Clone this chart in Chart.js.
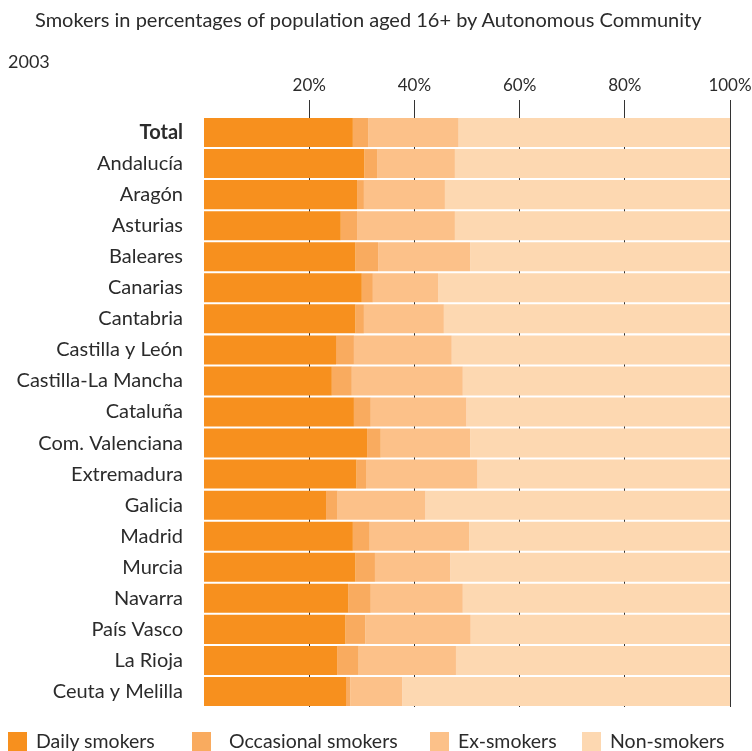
<!DOCTYPE html>
<html>
<head>
<meta charset="utf-8">
<script src="https://cdn.jsdelivr.net/npm/chart.js@4.4.0/dist/chart.umd.min.js"></script>
<style>
  html, body { margin: 0; padding: 0; background: #fff; }
  #wrap { position: relative; width: 752px; height: 751px; font-family: Lato, sans-serif; color: #2b2b2b; }
  #title { position: absolute; left: 35px; top: 7px; font-size: 20px; }
  #year { position: absolute; left: 8px; top: 50px; font-size: 18px; }
  #legend { position: absolute; left: 0; top: 729px; width: 752px; height: 22px; font-size: 19.5px; }
  .lg { position: absolute; top: 0; white-space: nowrap; }
  .lg span.box { display: inline-block; width: 19px; height: 19px; vertical-align: -3px; }
  canvas { position: absolute; left: 0; top: 0; }
</style>
</head>
<body>
<div id="wrap">
  <canvas id="chart" width="752" height="751"></canvas>
  <div id="title">Smokers in percentages of population aged 16+ by Autonomous Community</div>
  <div id="year">2003</div>
  <div id="legend"></div>
</div>
<script>
// Datos (porcentajes, 2003)
const regions = ['Total', 'Andalucía', 'Aragón', 'Asturias', 'Baleares', 'Canarias', 'Cantabria',
  'Castilla y León', 'Castilla-La Mancha', 'Cataluña', 'Com. Valenciana', 'Extremadura', 'Galicia',
  'Madrid', 'Murcia', 'Navarra', 'País Vasco', 'La Rioja', 'Ceuta y Melilla'];
const daily      = [28.3, 30.5, 29.1, 26.0, 28.8, 30.0, 28.8, 25.1, 24.3, 28.5, 31.0, 29.0, 23.2, 28.3, 28.8, 27.4, 26.9, 25.3, 27.0];
const occasional = [2.9, 2.4, 1.3, 3.1, 4.3, 2.1, 1.6, 3.4, 3.8, 3.2, 2.6, 1.8, 2.2, 3.2, 3.7, 4.3, 3.8, 4.1, 0.8];
const exSmokers  = [17.2, 14.8, 15.4, 18.6, 17.5, 12.4, 15.2, 18.6, 21.1, 18.2, 17.0, 21.2, 16.7, 18.9, 14.3, 17.5, 20.0, 18.5, 9.9];
const nonSmokers = [51.6, 52.3, 54.2, 52.3, 49.4, 55.5, 54.4, 52.9, 50.8, 50.1, 49.4, 48.0, 57.9, 49.6, 53.2, 50.8, 49.3, 52.1, 62.3];
const tickValues = [20, 40, 60, 80, 100];

const seriesNames = ['Daily smokers', 'Occasional smokers', 'Ex-smokers', 'Non-smokers'];
const seriesData = [daily, occasional, exSmokers, nonSmokers];
const colors = ['#F7901E', '#F9AB5F', '#FCC189', '#FDD8B1'];

const ctx = document.getElementById('chart').getContext('2d');
const chart = new Chart(ctx, {
  type: 'bar',
  data: {
    labels: regions,
    datasets: seriesNames.map((name, i) => ({
      label: name,
      data: seriesData[i],
      backgroundColor: colors[i],
      borderWidth: 0,
      categoryPercentage: 1,
      barPercentage: 0.935
    }))
  },
  options: {
    indexAxis: 'y',
    responsive: false,
    animation: false,
    layout: { padding: { top: 70, right: 0, left: 0, bottom: 44 } },
    plugins: {
      legend: { display: false },
      tooltip: { enabled: false }
    },
    scales: {
      x: {
        position: 'top',
        stacked: true,
        min: 0,
        max: 100,
        afterFit: (s) => { s.height = 47; s.paddingRight = 22; },
        afterBuildTicks: (s) => { s.ticks = tickValues.map(v => ({ value: v })); },
        grid: { color: '#333', lineWidth: 1, tickLength: 17, drawOnChartArea: true },
        border: { display: false },
        ticks: {
          padding: 4,
          color: '#2b2b2b',
          font: { family: 'Lato', size: 17 },
          callback: (v) => v + '%'
        }
      },
      y: {
        stacked: true,
        afterFit: (s) => { s.width = 204; },
        grid: { display: false, drawTicks: false },
        border: { display: false },
        ticks: {
          padding: 21,
          color: '#2b2b2b',
          font: (c) => ({ family: 'Lato', size: 20, weight: c.index === 0 ? 'bold' : 'normal' })
        }
      }
    }
  }
});

// Leyenda en HTML con posiciones como en el original
const legendX = [8, 192, 430, 582];
const legendEl = document.getElementById('legend');
seriesNames.forEach((name, i) => {
  const d = document.createElement('div');
  d.className = 'lg';
  d.style.left = legendX[i] + 'px';
  d.innerHTML = '<span class="box" style="background:' + colors[i] + '"></span>' +
    '<span style="margin-left:' + (i === 1 ? 18 : 9) + 'px">' + name + '</span>';
  legendEl.appendChild(d);
});
</script>
</body>
</html>
